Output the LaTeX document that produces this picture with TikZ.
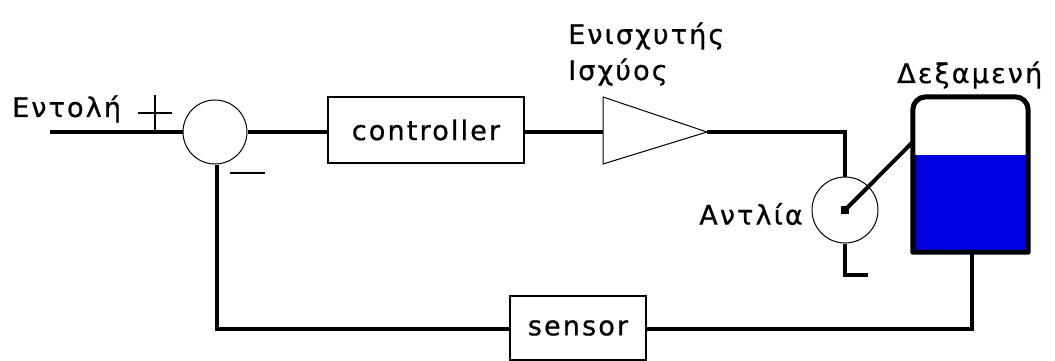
\documentclass[tikz,border=0pt]{standalone}
\usepackage{fontspec}
\setmainfont{DejaVu Sans}[LetterSpace=8,FakeBold=0.8]
\begin{document}
\begin{tikzpicture}[x=1pt,y=-1pt,
  wire/.style={line width=4.5pt},
  thinline/.style={line width=1pt},
  block/.style={draw,line width=1.5pt,inner sep=0pt},
  lbl/.style={inner sep=0pt,font=\fontsize{27}{32}\selectfont}]
\useasboundingbox (0,0) rectangle (1055,361);

% blocks
\node[draw,thinline,circle,minimum size=64pt,inner sep=0pt] (sum) at (215,132) {};
\node[block,minimum width=196pt,minimum height=66pt] (ctrl) at (426,130) {};
\node[lbl] at (ctrl.center) {controller};
\coordinate (ampL) at (603,132);
\coordinate (ampT) at (707,132);
\draw[thinline] (603,97) -- (603,164) -- (ampT) -- cycle;
\node[draw,thinline,circle,minimum size=66pt,inner sep=0pt] (pump) at (845,210) {};
\node[block,minimum width=136pt,minimum height=64pt] (sensor) at (578,328) {};
\node[lbl] at (sensor.center) {sensor};

% tank with water
\node[minimum width=115pt,minimum height=155pt,inner sep=0pt] (tank) at (970.5,174.5) {};
\fill[fill={rgb,255:red,0;green,0;blue,230}] (tank.west |- 0,155) rectangle (tank.south east);
\draw[line width=5pt,line join=round] (tank.south west)
  {[rounded corners=13pt] -- (tank.north west) -- (tank.north east)} -- (tank.south east) -- cycle;

% labels
\node[lbl,anchor=base west] at (12,117) {Εντολή};
\node[lbl,anchor=base west,align=left] at (568,44) {Ενισχυτής};
\node[lbl,anchor=base west] at (568,80) {Ισχύος};
\node[lbl,anchor=east] (pl) at (803,214) {Αντλία};
\node[lbl,anchor=base west] at (897,83) {Δεξαμενή};

% signs at the summing junction
\draw[line width=1.5pt] (138,113) -- (172,113) (155,95) -- (155,130);
\draw[line width=1.5pt] (230,173) -- (265,173);

% signal path
\coordinate (in) at (50,132);
\draw[wire] (in) -- (sum.west);
\draw[wire] (sum.east) -- (ctrl.west |- sum.east);
\draw[wire] (ctrl.east |- ampL) -- (ampL);
\draw[wire] (ampT) -- (pump.north |- ampT) -- (pump.north);
\coordinate (outlet) at (868,275);
\draw[wire] (pump.south) -- (pump.south |- outlet) -- (outlet);
\fill (pump.center) ++(-4,-4) rectangle ++(8,8);
\draw[line width=4pt] (pump.center) -- (tank.west |- 0,142);

% feedback path
\draw[wire] (tank.south -| 972,0) -- (972,329) -- (sensor.east |- 0,329);
\draw[wire] (sensor.west |- 0,329) -- (217,329) -- (sum.south -| 217,0);
\end{tikzpicture}
\end{document}
